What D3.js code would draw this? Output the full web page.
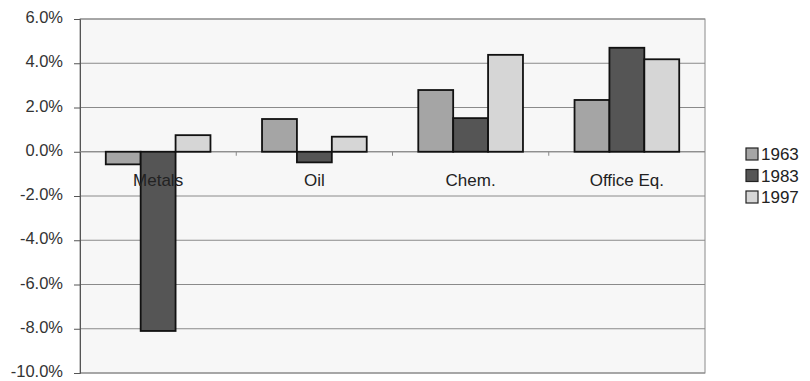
<!DOCTYPE html>
<html><head><meta charset="utf-8">
<script src="https://cdn.jsdelivr.net/npm/d3@7"></script>
<style>body{margin:0;background:#fff}text{font-family:"Liberation Sans",Arial,sans-serif}</style>
</head><body><svg id="c" width="810" height="381"></svg>
<script>
const categories = ["Metals","Oil","Chem.","Office Eq."];
const seriesNames = ["1963","1983","1997"];
const v1963 = [-0.57, 1.48, 2.79, 2.34];
const v1983 = [-8.1, -0.48, 1.52, 4.7];
const v1997 = [0.75, 0.68, 4.38, 4.18];
const yTicks = [6,4,2,0,-2,-4,-6,-8,-10];
const colors = ["#a5a5a5","#555555","#d6d6d6"];
const series = [v1963, v1983, v1997];

const svg = d3.select("#c");
const L=80, R=705, T=19, B=373;
const y = d3.scaleLinear().domain([-10,6]).range([B,T]);
const x0 = d3.scaleBand().domain(categories).range([L,R]).paddingInner(0.33).paddingOuter(0.165);
const x1 = d3.scaleBand().domain(seriesNames).range([0,x0.bandwidth()]);

svg.append("rect").attr("x",L).attr("y",T).attr("width",R-L).attr("height",B-T).attr("fill","#f7f7f7");
svg.append("g").selectAll("line").data(yTicks).join("line")
  .attr("x1",L).attr("x2",R).attr("y1",d=>y(d)).attr("y2",d=>y(d))
  .attr("stroke","#8a8a8a").attr("stroke-width",1);
svg.append("rect").attr("x",L).attr("y",T).attr("width",R-L).attr("height",B-T).attr("fill","none").attr("stroke","#8a8a8a");

const yAxis = d3.axisLeft(y).tickValues(yTicks).tickFormat(d=>d.toFixed(1)+"%").tickSize(6);
const ga = svg.append("g").attr("transform",`translate(${L},0)`).call(yAxis);
ga.select(".domain").attr("stroke","#555");
ga.selectAll(".tick line").attr("stroke","#555");
ga.selectAll("text").attr("font-size",16.5).attr("fill","#333").attr("x",-17).attr("dy","0.22em");

// zero axis with category boundary ticks
svg.append("line").attr("x1",L).attr("x2",R).attr("y1",y(0)).attr("y2",y(0)).attr("stroke","#888");
const step = (R-L)/categories.length;
svg.append("g").selectAll("line").data(d3.range(1,categories.length)).join("line")
  .attr("x1",d=>L+d*step).attr("x2",d=>L+d*step).attr("y1",y(0)).attr("y2",y(0)+4).attr("stroke","#888");

categories.forEach((c,i)=>{
  const g = svg.append("g").attr("transform",`translate(${x0(c)},0)`);
  g.selectAll("rect").data(series.map((s,j)=>({k:seriesNames[j],v:s[i],j}))).join("rect")
    .attr("x",d=>x1(d.k)).attr("width",x1.bandwidth())
    .attr("y",d=>y(Math.max(0,d.v))).attr("height",d=>Math.abs(y(d.v)-y(0)))
    .attr("fill",d=>colors[d.j]).attr("stroke","#111").attr("stroke-width",1.8);
});

svg.append("g").selectAll("text").data(categories).join("text")
  .attr("x",d=>x0(d)+x0.bandwidth()/2).attr("y",y(0)+34).attr("text-anchor","middle")
  .attr("font-size",17).attr("fill","#222").text(d=>d);

const lg = svg.append("g");
seriesNames.forEach((s,i)=>{
  const yy = 154 + i*21.5;
  lg.append("rect").attr("x",746).attr("y",yy-6).attr("width",12).attr("height",12)
    .attr("fill",colors[i]).attr("stroke","#222").attr("stroke-width",1.2);
  lg.append("text").attr("x",761).attr("y",yy+6).attr("font-size",17).attr("fill","#222").text(s);
});
</script></body></html>
